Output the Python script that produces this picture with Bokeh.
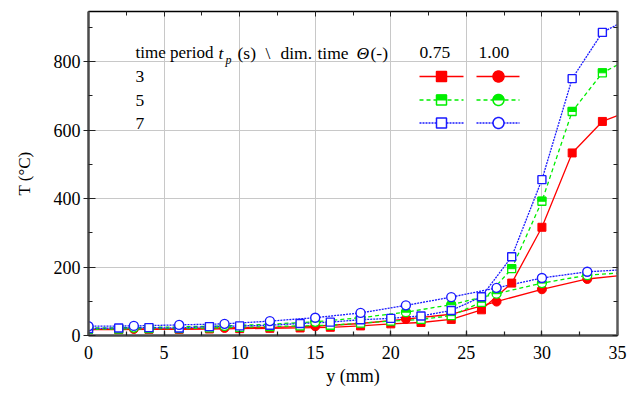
import math
from bokeh.plotting import figure
from bokeh.models import (Range1d, LinearAxis, FixedTicker, CustomJSTickFormatter,
                          Label, Arrow, BoxAnnotation, PolyAnnotation)
from bokeh.embed import file_html
from bokeh.resources import INLINE

# ---------------- data ----------------
sq_x = [0, 2, 4, 6, 8, 10, 12, 14, 16, 18, 20, 22, 24, 26, 28, 30, 32, 34]          # theta = 0.75
circ_x = [0, 3, 6, 9, 12, 15, 18, 21, 24, 27, 30, 33]                                 # theta = 1.00

t3_075 = [17, 17, 18, 18, 19, 20, 21, 22, 24, 28, 34, 38, 47, 75, 153, 316, 533, 625]
t5_075 = [18, 19, 20, 20, 22, 24, 26, 28, 30, 36, 42, 47, 58, 97, 195, 392, 654, 767]
t7_075 = [20, 22, 23, 22, 26, 28, 30, 35, 39, 46, 50, 57, 73, 113, 230, 455, 750, 885]

t3_100 = [18, 19, 20, 22, 24, 27, 35, 48, 62, 99, 135, 165]
t5_100 = [22, 23, 25, 28, 33, 40, 52, 68, 90, 122, 153, 176]
t7_100 = [27, 28, 31, 34, 42, 52, 66, 88, 112, 139, 168, 186]

# curve values at the right edge (y = 35 mm)
end_x = 35
end_075 = {"3": 642, "5": 790, "7": 908}
end_100 = {"3": 174, "5": 182, "7": 191}

periods = ["3", "5", "7"]
thetas = ["0.75", "1.00"]
x_ticks = [0, 5, 10, 15, 20, 25, 30, 35]
y_ticks = [0, 200, 400, 600, 800]

# ---------------- layout ----------------
W, H = 630, 390
ML, MR, MT, MB = 88, 13, 11, 55
X0, X1 = 0, 35
Y0, Y1 = 0, 946
FH = H - MT - MB
ppu = FH / (Y1 - Y0)

FONT = "Liberation Serif"
RED, GREEN, BLUE = "#ff0000", "#00ee00", "#1a1aff"
styles = {"3": dict(color=RED, dash="solid"),
          "5": dict(color=GREEN, dash="4 3"),
          "7": dict(color=BLUE, dash="2 1")}

p = figure(width=W, height=H, output_backend="svg", toolbar_location=None,
           x_range=Range1d(X0, X1), y_range=Range1d(Y0, Y1),
           min_border_left=ML, min_border_right=MR, min_border_top=MT, min_border_bottom=MB)
p.outline_line_color = None
p.background_fill_color = "white"

xt = FixedTicker(ticks=x_ticks, minor_ticks=[v * 2.5 for v in range(15)])
yt = FixedTicker(ticks=y_ticks, minor_ticks=[v * 100 for v in range(10)])

for ax in p.xaxis:
    ax.ticker = xt
for ax in p.yaxis:
    ax.ticker = yt

for ax in [p.xaxis[0], p.yaxis[0]]:
    ax.axis_line_color = "#4a4a4a"
    ax.axis_line_width = 2.5
    ax.major_tick_line_color = "#222222"
    ax.minor_tick_line_color = "#222222"
    ax.major_tick_line_width = 1.2
    ax.minor_tick_line_width = 1.2
    ax.major_label_text_font = FONT
    ax.major_label_text_font_size = "18px"
    ax.major_label_text_font_style = "normal"
    ax.major_label_text_color = "black"
    ax.minor_tick_in = 4
    ax.minor_tick_out = 0
    ax.axis_label_text_font = FONT
    ax.axis_label_text_font_style = "normal"
    ax.axis_label_text_color = "black"

p.xaxis[0].major_tick_in = 5
p.xaxis[0].major_tick_out = 0
p.xaxis[0].major_label_standoff = 10
p.xaxis[0].axis_label = "y (mm)"
p.xaxis[0].axis_label_text_font_size = "18px"
p.xaxis[0].axis_label_standoff = 4

p.yaxis[0].major_tick_in = 7
p.yaxis[0].major_tick_out = 5
p.yaxis[0].major_label_standoff = 3
p.yaxis[0].axis_label = "T (\u00b0C)"
p.yaxis[0].axis_label_text_font_size = "17px"
p.yaxis[0].axis_label_standoff = 17

blank = CustomJSTickFormatter(code="return ''")
top = LinearAxis(ticker=xt, formatter=blank, axis_line_color="black", axis_line_width=1.5,
                 major_tick_in=5, major_tick_out=0, minor_tick_in=4, minor_tick_out=0,
                 major_label_standoff=0, major_label_text_font_size="0px",
                 major_tick_line_color="#222222", minor_tick_line_color="#222222")
right = LinearAxis(ticker=yt, formatter=blank, axis_line_color="#5a5a5a", axis_line_width=2.5,
                   major_tick_in=5, major_tick_out=0, minor_tick_in=4, minor_tick_out=0,
                   major_label_standoff=0, major_label_text_font_size="0px",
                   major_tick_line_color="#222222", minor_tick_line_color="#222222")
p.add_layout(top, "above")
p.add_layout(right, "right")

p.xgrid.grid_line_color = "#c8c8c8"
p.ygrid.grid_line_color = "#c8c8c8"
p.xgrid.grid_line_width = 1
p.ygrid.grid_line_width = 1

# ---------------- series ----------------
MS_SQ = 8
MS_C = 9
data_075 = {"3": t3_075, "5": t5_075, "7": t7_075}
data_100 = {"3": t3_100, "5": t5_100, "7": t7_100}

for per in periods:
    st = styles[per]
    c = st["color"]
    ys = data_075[per]
    p.line(sq_x + [end_x], ys + [end_075[per]], line_color=c, line_width=1.3, line_dash=st["dash"])
    yc = data_100[per]
    p.line(circ_x + [end_x], yc + [end_100[per]], line_color=c, line_width=1.3, line_dash=st["dash"])

for per in periods:
    c = styles[per]["color"]
    ys = data_075[per]
    yc = data_100[per]
    if per == "3":
        p.scatter(sq_x, ys, marker="square", size=MS_SQ, fill_color=c, line_color=c)
        p.scatter(circ_x, yc, marker="circle", size=MS_C, fill_color=c, line_color=c)
    elif per == "5":
        p.scatter(sq_x, ys, marker="square", size=MS_SQ, fill_color="white", line_color=c, line_width=1.3)
        off = (MS_SQ / 4) / ppu
        p.rect(sq_x, [v + off for v in ys], width=MS_SQ, height=MS_SQ / 2,
               width_units="screen", height_units="screen", fill_color=c, line_color=c, line_width=1)
        p.scatter(circ_x, yc, marker="circle", size=MS_C, fill_color="white", line_color=c, line_width=1.3)
        p.wedge(circ_x, yc, radius=MS_C / 2, radius_units="screen", start_angle=0, end_angle=math.pi,
                fill_color=c, line_color=c, line_width=1)
    else:
        p.scatter(sq_x, ys, marker="square", size=MS_SQ, fill_color="white", line_color=c, line_width=1.4)
        p.scatter(circ_x, yc, marker="circle", size=MS_C, fill_color="white", line_color=c, line_width=1.4)

# ---------------- legend texts (canvas px) ----------------
def lab(text, x, y, size="17.5px", style="normal", align="left", baseline="alphabetic"):
    p.add_layout(Label(x=x, y=y, x_units="canvas", y_units="canvas", text=text,
                       text_font=FONT, text_font_size=size, text_font_style=style,
                       text_align=align, text_baseline=baseline, text_color="black"))

lab("time period", 135, 52, size="17px")
lab("t", 218, 52, style="italic")
lab("p", 225, 59, size="12px", style="italic")
lab("(s)", 237, 52)
lab("\\", 265, 52)
lab("dim.", 280, 52)
lab("time", 317, 52)
lab("\u0398", 356, 52, style="italic")
lab("(-)", 370, 52)
lab(thetas[0], 419, 52)
lab(thetas[1], 478, 52)

row_y = {"3": 76, "5": 99.5, "7": 122.5}
for per in periods:
    lab(per, 135, row_y[per], baseline="middle")

# legend samples
def circle_pts(cx, cy, r, a0=0.0, a1=2 * math.pi, n=32):
    xs = [cx + r * math.cos(a0 + (a1 - a0) * i / n) for i in range(n + 1)]
    ys = [cy - r * math.sin(a0 + (a1 - a0) * i / n) for i in range(n + 1)]
    return xs, ys

for per in periods:
    st = styles[per]
    c = st["color"]
    y = row_y[per]
    for (x0, x1) in [(419, 463), (476, 519)]:
        p.add_layout(Arrow(end=None, x_start=x0, y_start=y, x_end=x1, y_end=y,
                           start_units="canvas", end_units="canvas",
                           line_color=c, line_width=1.5, line_dash=st["dash"]))
    sx, cx, h = 441, 498, 5
    fill = c if per == "3" else "white"
    p.add_layout(BoxAnnotation(left=sx - h, right=sx + h, top=y - h, bottom=y + h,
                               left_units="canvas", right_units="canvas",
                               top_units="canvas", bottom_units="canvas",
                               fill_color=fill, fill_alpha=1, line_color=c, line_width=1.5, line_alpha=1))
    xs, ys = circle_pts(cx, y, 5.5)
    p.add_layout(PolyAnnotation(xs=xs, ys=ys, xs_units="canvas", ys_units="canvas",
                                fill_color=fill, fill_alpha=1, line_color=c, line_width=1.5, line_alpha=1))
    if per == "5":
        p.add_layout(BoxAnnotation(left=sx - h, right=sx + h, top=y - h, bottom=y,
                                   left_units="canvas", right_units="canvas",
                                   top_units="canvas", bottom_units="canvas",
                                   fill_color=c, fill_alpha=1, line_color=c, line_width=1, line_alpha=1))
        xs, ys = circle_pts(cx, y, 5.5, 0, math.pi)
        p.add_layout(PolyAnnotation(xs=xs, ys=ys, xs_units="canvas", ys_units="canvas",
                                    fill_color=c, fill_alpha=1, line_color=c, line_width=1, line_alpha=1))

open("out.html", "w").write(file_html(p, INLINE))
